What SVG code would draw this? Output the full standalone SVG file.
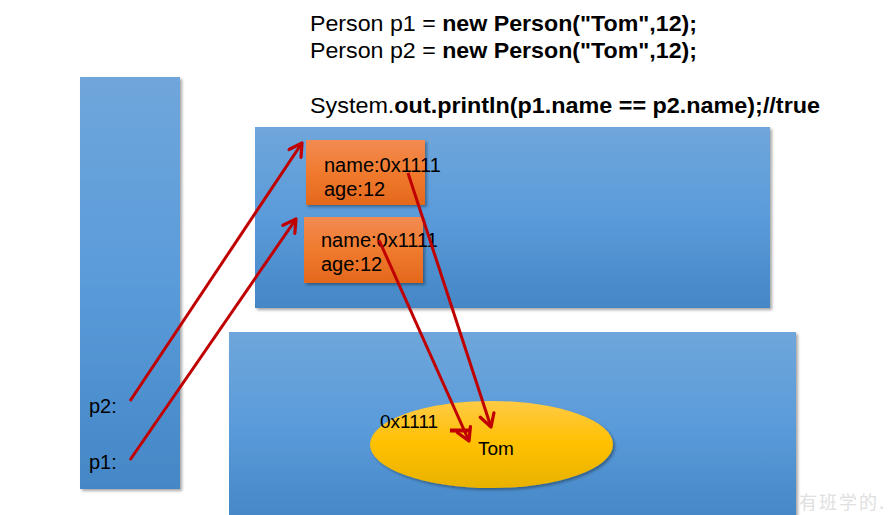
<svg xmlns="http://www.w3.org/2000/svg" width="891" height="515" viewBox="0 0 891 515">
  <defs>
    <linearGradient id="blueFill" x1="0" y1="0" x2="0" y2="1">
      <stop offset="0" stop-color="#6FA6DB"/>
      <stop offset="0.5" stop-color="#5A9BDA"/>
      <stop offset="1" stop-color="#4587C6"/>
    </linearGradient>
    <linearGradient id="orangeFill" x1="0" y1="0" x2="0" y2="1">
      <stop offset="0" stop-color="#F28B52"/>
      <stop offset="0.5" stop-color="#F07A2E"/>
      <stop offset="1" stop-color="#E4681C"/>
    </linearGradient>
    <linearGradient id="goldFill" x1="0" y1="0" x2="0" y2="1">
      <stop offset="0" stop-color="#FFCA45"/>
      <stop offset="0.5" stop-color="#FFC000"/>
      <stop offset="1" stop-color="#E8B200"/>
    </linearGradient>
    <filter id="shadow" x="-10%" y="-10%" width="120%" height="120%">
      <feDropShadow dx="2" dy="2" stdDeviation="1.5" flood-color="#000" flood-opacity="0.35"/>
    </filter>
    <marker id="openArrow" viewBox="0 0 10 10" refX="8.5" refY="5" markerWidth="6" markerHeight="6" orient="auto" markerUnits="strokeWidth">
      <path d="M1.5,1 L8.5,5 L1.5,9" fill="none" stroke="#C00000" stroke-width="1.8" stroke-linecap="round" stroke-linejoin="round"/>
    </marker>
  </defs>
  <style>
    .code { font-family: "Liberation Sans", Arial, sans-serif; font-size: 22.5px; fill: #000; }
    .code .b { font-weight: bold; }
    .lbl { font-family: "Liberation Sans", Arial, sans-serif; font-size: 19px; fill: #000; }
    .box { font-family: "Liberation Sans", Arial, sans-serif; font-size: 20px; fill: #000; }
    .ref { fill: none; stroke: #C00000; stroke-width: 3; }
  </style>

  <rect width="891" height="515" fill="#FFFFFF"/>

  <!-- source code -->
  <g id="code">
    <text class="code" x="310" y="31" textLength="387" lengthAdjust="spacingAndGlyphs">Person p1 = <tspan class="b">new Person("Tom",12);</tspan></text>
    <text class="code" x="310" y="58" textLength="387" lengthAdjust="spacingAndGlyphs">Person p2 = <tspan class="b">new Person("Tom",12);</tspan></text>
    <text class="code" x="310" y="113" textLength="510" lengthAdjust="spacingAndGlyphs">System.<tspan class="b">out.println(p1.name == p2.name);//true</tspan></text>
  </g>

  <!-- stack -->
  <g id="stack">
    <rect x="80" y="77" width="100" height="412" fill="url(#blueFill)" filter="url(#shadow)"/>
    <text class="box" x="89" y="413">p2:</text>
    <text class="box" x="89" y="469">p1:</text>
  </g>

  <!-- heap -->
  <g id="heap">
    <rect x="255" y="127" width="515" height="181" fill="url(#blueFill)" filter="url(#shadow)"/>
  </g>

  <!-- string constant pool -->
  <g id="pool">
    <rect x="229" y="332" width="567" height="190" fill="url(#blueFill)" filter="url(#shadow)"/>
  </g>

  <g id="person1">
    <rect x="306" y="140" width="119" height="65" fill="url(#orangeFill)" filter="url(#shadow)"/>
    <text class="box" x="324" y="172">name:0x1111</text>
    <text class="box" x="324" y="196">age:12</text>
  </g>

  <g id="person2">
    <rect x="304" y="217" width="119" height="66" fill="url(#orangeFill)" filter="url(#shadow)"/>
    <text class="box" x="321" y="247">name:0x1111</text>
    <text class="box" x="321" y="271">age:12</text>
  </g>

  <g id="tom">
    <ellipse cx="491.5" cy="444.5" rx="121.5" ry="43.5" fill="url(#goldFill)" filter="url(#shadow)"/>
    <text class="lbl" x="380" y="428">0x1111</text>
    <text class="lbl" x="478" y="455">Tom</text>
  </g>

  <!-- references -->
  <g id="connectors">
    <line class="ref" x1="130" y1="401" x2="302" y2="143" marker-end="url(#openArrow)"/>
    <line class="ref" x1="130" y1="460" x2="296" y2="219" marker-end="url(#openArrow)"/>
    <line class="ref" x1="408" y1="173" x2="491" y2="427" marker-end="url(#openArrow)"/>
    <line class="ref" x1="379" y1="240" x2="469" y2="441" marker-end="url(#openArrow)"/>
    <line x1="450" y1="430.5" x2="470" y2="430.5" stroke="#C00000" stroke-width="4"/>
  </g>

  <text x="799" y="509" font-family="Noto Sans CJK SC, sans-serif" font-size="18" fill="#E0E0E0" letter-spacing="2">有班学的.</text>
</svg>
